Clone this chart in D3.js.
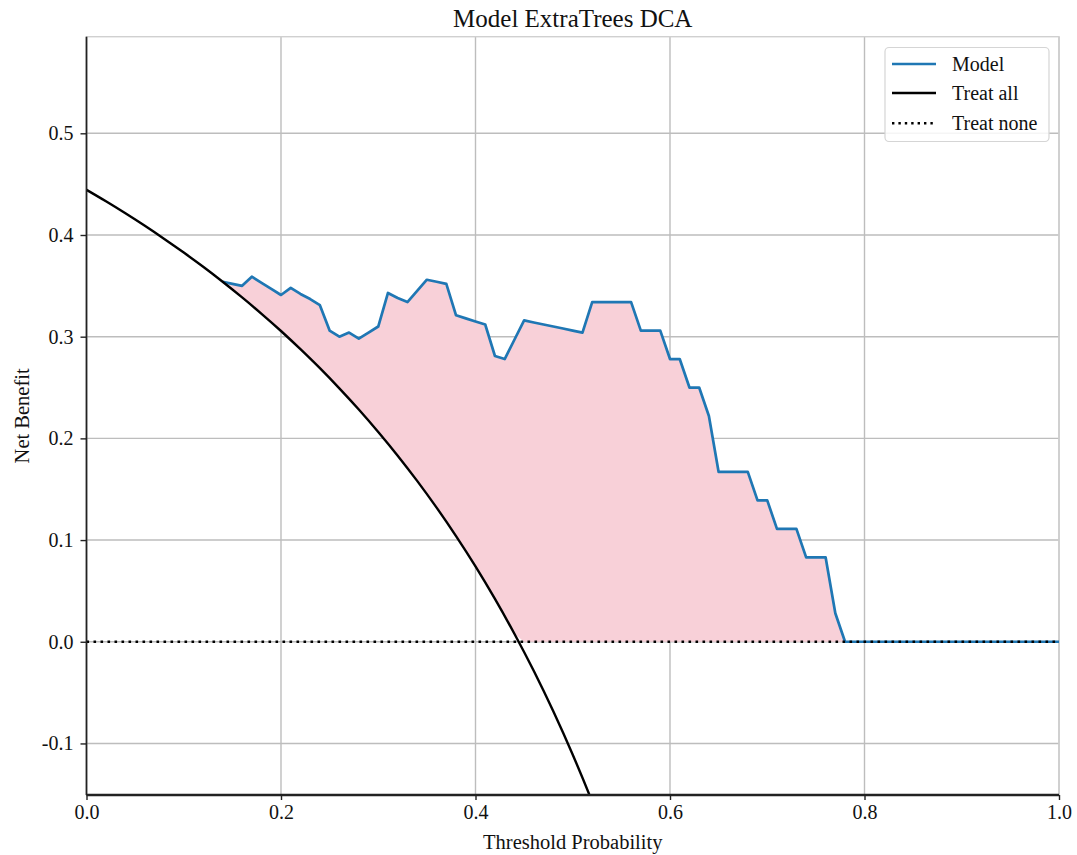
<!DOCTYPE html>
<html>
<head>
<meta charset="utf-8">
<script src="https://cdn.jsdelivr.net/npm/d3@7"></script>
<style>
  html, body { margin: 0; padding: 0; background: #fff; }
  svg { display: block; }
  text { font-family: "Liberation Serif", "Times New Roman", serif; fill: #111; }
</style>
</head>
<body>
<svg id="chart" width="1077" height="855"></svg>
<script>
// ---- data ----
const title = "Model ExtraTrees DCA";
const xLabel = "Threshold Probability";
const yLabel = "Net Benefit";
const xTicks = [0.0, 0.2, 0.4, 0.6, 0.8, 1.0];
const yTicks = [-0.1, 0.0, 0.1, 0.2, 0.3, 0.4, 0.5];
const seriesNames = ["Model", "Treat all", "Treat none"];

const modelThresholds = [0.14,0.15,0.16,0.17,0.18,0.19,0.20,0.21,0.22,0.23,0.24,0.25,0.26,0.27,0.28,0.29,
  0.30,0.31,0.32,0.33,0.34,0.35,0.36,0.37,0.38,0.39,0.40,0.41,0.42,0.43,0.44,0.45,0.46,0.47,0.48,0.49,
  0.50,0.51,0.52,0.53,0.54,0.55,0.56,0.57,0.58,0.59,0.60,0.61,0.62,0.63,0.64,0.65,0.66,0.67,0.68,0.69,
  0.70,0.71,0.72,0.73,0.74,0.75,0.76,0.77,0.78,0.80,0.90,1.00];
const modelValues = [0.354,0.352,0.350,0.359,0.353,0.347,0.341,0.348,0.342,0.337,0.331,0.306,0.300,0.304,0.298,0.304,
  0.310,0.343,0.338,0.334,0.345,0.356,0.354,0.352,0.321,0.318,0.315,0.312,0.281,0.278,0.297,0.316,0.314,0.312,0.310,0.308,
  0.306,0.304,0.334,0.334,0.334,0.334,0.334,0.306,0.306,0.306,0.278,0.278,0.250,0.250,0.222,0.167,0.167,0.167,0.167,0.139,
  0.139,0.111,0.111,0.111,0.083,0.083,0.083,0.028,0.000,0.000,0.000,0.000];

const treatAllThresholds = [0.00,0.02,0.04,0.06,0.08,0.10,0.12,0.14,0.16,0.18,0.20,0.22,0.24,0.26,0.28,0.30,
  0.32,0.34,0.36,0.38,0.40,0.42,0.44,0.46,0.48,0.50,0.52,0.54];
const treatAllValues = [0.4444,0.4331,0.4213,0.4090,0.3961,0.3827,0.3687,0.3540,0.3386,0.3225,0.3056,0.2877,0.2690,0.2492,0.2284,0.2063,
  0.1830,0.1582,0.1319,0.1039,0.0741,0.0421,0.0079,-0.0288,-0.0684,-0.1111,-0.1574,-0.2078];

const treatNoneThresholds = [0.0, 1.0];
const treatNoneValues = [0.0, 0.0];

// ---- layout ----
const svg = d3.select("#chart");
const M = { left: 86.5, right: 1059, top: 36.7, bottom: 795 };
const x = d3.scaleLinear().domain([0, 1]).range([M.left, M.right]);
const y = d3.scaleLinear().domain([-0.1507, 0.595]).range([M.bottom, M.top]);

const FILL = "rgb(248,208,216)";
const BLUE = "#1f77b4";
const FS = "20px";

svg.append("defs").append("clipPath").attr("id", "plotclip")
  .append("rect").attr("x", M.left).attr("y", M.top)
  .attr("width", M.right - M.left).attr("height", M.bottom - M.top);

// grid
const grid = svg.append("g");
grid.selectAll(".gx").data(xTicks).join("line")
  .attr("x1", d => x(d)).attr("x2", d => x(d))
  .attr("y1", M.top).attr("y2", M.bottom)
  .attr("stroke", "#bdbdbd").attr("stroke-width", 1.4);
grid.selectAll(".gy").data(yTicks).join("line")
  .attr("x1", M.left).attr("x2", M.right)
  .attr("y1", d => y(d)).attr("y2", d => y(d))
  .attr("stroke", "#bdbdbd").attr("stroke-width", 1.4);
// frame (top/right gray)
svg.append("rect").attr("x", M.left).attr("y", M.top)
  .attr("width", M.right - M.left).attr("height", M.bottom - M.top)
  .attr("fill", "none").attr("stroke", "#d0d0d0").attr("stroke-width", 1.4);

const model = modelThresholds.map((t, i) => ({ t, v: modelValues[i] }));
const treatAll = treatAllThresholds.map((t, i) => ({ t, v: treatAllValues[i] }));
const treatNone = treatNoneThresholds.map((t, i) => ({ t, v: treatNoneValues[i] }));

function interpAt(ts, vs, t) {
  const i = d3.bisectLeft(ts, t);
  if (i <= 0) return vs[0];
  if (i >= ts.length) return vs[vs.length - 1];
  if (ts[i] === t) return vs[i];
  const t0 = ts[i - 1], t1 = ts[i];
  const f = (t - t0) / (t1 - t0);
  return vs[i - 1] + f * (vs[i] - vs[i - 1]);
}

const plotArea = svg.append("g").attr("clip-path", "url(#plotclip)");
const fillTs = Array.from(new Set(modelThresholds.concat(treatAllThresholds)))
  .filter(t => t >= modelThresholds[0] && t <= 0.78).sort((a, b) => a - b);
const fillData = fillTs.map(t => ({
  t,
  hi: interpAt(modelThresholds, modelValues, t),
  lo: Math.max(interpAt(treatAllThresholds, treatAllValues, t), interpAt(treatNoneThresholds, treatNoneValues, t))
}));
plotArea.append("path").datum(fillData)
  .attr("fill", FILL)
  .attr("d", d3.area().x(d => x(d.t)).y0(d => y(d.lo)).y1(d => y(Math.max(d.hi, d.lo))));

plotArea.append("path").datum(model)
  .attr("fill", "none").attr("stroke", BLUE).attr("stroke-width", 2.7).attr("stroke-linejoin", "round")
  .attr("d", d3.line().x(d => x(d.t)).y(d => y(d.v)));
plotArea.append("path").datum(treatAll)
  .attr("fill", "none").attr("stroke", "#000").attr("stroke-width", 2.4)
  .attr("d", d3.line().curve(d3.curveMonotoneX).x(d => x(d.t)).y(d => y(d.v)));
plotArea.append("path").datum(treatNone)
  .attr("fill", "none").attr("stroke", "#000").attr("stroke-width", 2.6)
  .attr("stroke-dasharray", "2.6,4.4")
  .attr("d", d3.line().x(d => x(d.t)).y(d => y(d.v)));

// spines
svg.append("line").attr("x1", M.left).attr("x2", M.left).attr("y1", M.top).attr("y2", M.bottom)
  .attr("stroke", "#222").attr("stroke-width", 1.7);
svg.append("line").attr("x1", M.left).attr("x2", M.right).attr("y1", M.bottom).attr("y2", M.bottom)
  .attr("stroke", "#222").attr("stroke-width", 2.4);

// axes
const fmt = d => d3.format(".1f")(d).replace("−", "-");
const xAxis = svg.append("g").attr("transform", `translate(0,${M.bottom})`)
  .call(d3.axisBottom(x).tickValues(xTicks).tickFormat(fmt).tickSize(5).tickPadding(5));
const yAxis = svg.append("g").attr("transform", `translate(${M.left},0)`)
  .call(d3.axisLeft(y).tickValues(yTicks).tickFormat(fmt).tickSize(6).tickPadding(7));
[xAxis, yAxis].forEach(a => {
  a.select(".domain").remove();
  a.selectAll(".tick line").attr("stroke", "#222").attr("stroke-width", 1.4);
  a.selectAll(".tick text").style("font-family", "'Liberation Serif', serif").style("font-size", FS).attr("fill", "#111");
});

// titles
svg.append("text").attr("x", (M.left + M.right) / 2).attr("y", 27)
  .attr("text-anchor", "middle").style("font-size", "25px").text(title);
svg.append("text").attr("x", (M.left + M.right) / 2).attr("y", 849)
  .attr("text-anchor", "middle").style("font-size", "20.5px").text(xLabel);
svg.append("text").attr("transform", `translate(29,${(M.top + M.bottom) / 2}) rotate(-90)`)
  .attr("text-anchor", "middle").style("font-size", "20.5px").text(yLabel);

// legend
const lg = svg.append("g");
lg.append("rect").attr("x", 885).attr("y", 47.5).attr("width", 164).attr("height", 94).attr("rx", 4)
  .attr("fill", "rgba(255,255,255,0.85)").attr("stroke", "#d5d5d5").attr("stroke-width", 1.2);
const styles = [
  { stroke: BLUE, dash: null, w: 2.7 },
  { stroke: "#000", dash: null, w: 2.4 },
  { stroke: "#000", dash: "2.4,4", w: 2.4 }
];
const rowY = [64, 93, 123.3];
seriesNames.forEach((name, i) => {
  lg.append("line").attr("x1", 892).attr("x2", 936).attr("y1", rowY[i]).attr("y2", rowY[i])
    .attr("stroke", styles[i].stroke).attr("stroke-width", styles[i].w)
    .attr("stroke-dasharray", styles[i].dash);
  lg.append("text").attr("x", 952).attr("y", rowY[i] + 7).style("font-size", FS).text(name);
});
</script>
</body>
</html>
